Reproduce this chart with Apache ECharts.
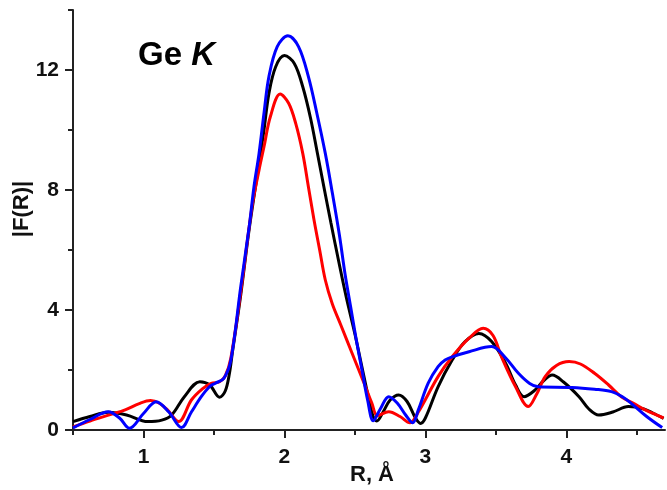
<!DOCTYPE html>
<html>
<head>
<meta charset="utf-8">
<script src="https://cdn.jsdelivr.net/npm/echarts@6/dist/echarts.min.js"></script>
<style>
  html, body { margin: 0; padding: 0; background: #fff; }
  #chart { width: 667px; height: 490px; }
</style>
</head>
<body>
<div id="chart"></div>
<script>
// |F(R)| curves
const xBlack = [0.50, 0.62, 0.75, 0.88, 1.03, 1.13, 1.20, 1.29, 1.40, 1.47, 1.54, 1.58, 1.61, 1.63, 1.69, 1.75, 1.82, 1.855, 1.89, 1.938, 2.00, 2.07, 2.13, 2.185, 2.235, 2.28, 2.33, 2.386, 2.44, 2.50, 2.55, 2.59, 2.63, 2.655, 2.70, 2.75, 2.81, 2.87, 2.93, 2.965, 3.00, 3.09, 3.19, 3.28, 3.38, 3.47, 3.57, 3.64, 3.70, 3.77, 3.84, 3.90, 3.98, 4.09, 4.16, 4.23, 4.33, 4.44, 4.55, 4.62, 4.69];
const yBlack = [0.28, 0.45, 0.59, 0.50, 0.28, 0.33, 0.50, 1.11, 1.61, 1.50, 1.09, 1.30, 1.89, 2.56, 4.50, 6.70, 8.89, 10.00, 11.22, 12.11, 12.48, 12.22, 11.44, 10.40, 9.20, 8.10, 6.90, 5.60, 4.40, 3.20, 2.10, 1.22, 0.44, 0.30, 0.60, 1.00, 1.17, 0.95, 0.40, 0.22, 0.40, 1.44, 2.33, 2.94, 3.22, 2.95, 2.22, 1.50, 1.11, 1.30, 1.65, 1.83, 1.60, 1.11, 0.70, 0.50, 0.60, 0.78, 0.70, 0.55, 0.39];

const xRed = [0.50, 0.62, 0.77, 0.87, 0.97, 1.05, 1.11, 1.17, 1.25, 1.34, 1.42, 1.48, 1.54, 1.58, 1.62, 1.69, 1.77, 1.82, 1.855, 1.90, 1.97, 2.03, 2.08, 2.13, 2.17, 2.21, 2.25, 2.29, 2.34, 2.40, 2.48, 2.575, 2.62, 2.66, 2.74, 2.82, 2.89, 2.95, 3.09, 3.19, 3.31, 3.41, 3.48, 3.54, 3.64, 3.73, 3.79, 3.85, 3.93, 4.02, 4.10, 4.20, 4.30, 4.39, 4.48, 4.56, 4.69];
const yRed = [0.10, 0.30, 0.52, 0.67, 0.88, 0.98, 0.90, 0.67, 0.28, 1.00, 1.38, 1.55, 1.61, 1.80, 2.40, 4.60, 7.44, 8.67, 9.44, 10.44, 11.20, 10.89, 10.22, 9.22, 8.11, 7.00, 6.00, 5.00, 4.20, 3.50, 2.56, 1.44, 0.90, 0.48, 0.61, 0.45, 0.24, 0.60, 1.78, 2.44, 3.06, 3.39, 3.15, 2.44, 1.44, 0.78, 1.20, 1.78, 2.15, 2.28, 2.20, 1.89, 1.50, 1.11, 0.88, 0.67, 0.40];

const xBlue = [0.50, 0.62, 0.75, 0.83, 0.90, 1.00, 1.09, 1.18, 1.27, 1.34, 1.41, 1.47, 1.51, 1.57, 1.62, 1.69, 1.75, 1.784, 1.82, 1.855, 1.89, 1.949, 2.025, 2.10, 2.17, 2.23, 2.29, 2.34, 2.39, 2.43, 2.47, 2.51, 2.55, 2.59, 2.63, 2.68, 2.74, 2.80, 2.86, 2.91, 2.95, 3.02, 3.09, 3.14, 3.19, 3.31, 3.47, 3.57, 3.66, 3.74, 3.80, 4.04, 4.20, 4.32, 4.40, 4.46, 4.57, 4.68];
const yBlue = [0.07, 0.35, 0.61, 0.40, 0.06, 0.55, 0.94, 0.60, 0.08, 0.60, 1.11, 1.45, 1.56, 1.72, 2.33, 4.78, 6.78, 8.11, 9.22, 10.56, 11.78, 12.78, 13.14, 12.78, 11.78, 10.56, 9.22, 7.90, 6.50, 5.20, 4.10, 3.00, 2.00, 1.00, 0.31, 0.70, 1.11, 0.90, 0.50, 0.24, 0.67, 1.56, 2.11, 2.33, 2.44, 2.61, 2.78, 2.40, 1.89, 1.55, 1.44, 1.42, 1.36, 1.28, 1.10, 0.89, 0.45, 0.08];

const xMajor = [1, 2, 3, 4];
const xMinor = [0.5, 1.5, 2.5, 3.5, 4.5];
const yMajor = [0, 4, 8, 12];
const yMinor = [2, 6, 10, 14];

const font = 'Liberation Sans, Arial, sans-serif';

function pairs(xs, ys) {
    return xs.map((x, i) => [x, ys[i]]);
}

function makeLine(name, xs, ys, color) {
    return {
        name: name,
        type: 'line',
        data: pairs(xs, ys),
        smooth: 0.35,
        showSymbol: false,
        lineStyle: { color: color, width: 3 },
        itemStyle: { color: color },
        z: 3
    };
}

const axisLine = { show: true, lineStyle: { color: '#222', width: 2 } };

var chart = echarts.init(document.getElementById('chart'));
var option = {
    animation: false,
    grid: { left: 73, right: 2, top: 10, bottom: 60 },
    xAxis: [{
        type: 'value',
        min: 0.5,
        max: 4.7,
        position: 'bottom',
        axisLine: axisLine,
        axisTick: { show: true, customValues: xMajor, length: 8, lineStyle: { color: '#222', width: 2 } },
        axisLabel: { customValues: xMajor, margin: 17, color: '#111', fontFamily: font, fontWeight: 'bold', fontSize: 21 },
        splitLine: { show: false }
    }, {
        type: 'value',
        min: 0.5,
        max: 4.7,
        position: 'bottom',
        offset: 0,
        axisLine: { show: false },
        axisTick: { show: true, customValues: xMinor, length: 5, lineStyle: { color: '#222', width: 2 } },
        axisLabel: { show: false },
        splitLine: { show: false }
    }],
    yAxis: [{
        type: 'value',
        min: 0,
        max: 14,
        position: 'left',
        axisLine: axisLine,
        axisTick: { show: true, customValues: yMajor, length: 8, lineStyle: { color: '#222', width: 2 } },
        axisLabel: { customValues: yMajor, margin: 14, color: '#111', fontFamily: font, fontWeight: 'bold', fontSize: 21 },
        splitLine: { show: false }
    }, {
        type: 'value',
        min: 0,
        max: 14,
        position: 'left',
        offset: 0,
        axisLine: { show: false },
        axisTick: { show: true, customValues: yMinor, length: 5, lineStyle: { color: '#222', width: 2 } },
        axisLabel: { show: false },
        splitLine: { show: false }
    }],
    graphic: [{
        type: 'text',
        left: 138,
        top: 39,
        style: {
            text: '{a|Ge }{b|K}',
            rich: {
                a: { fontFamily: font, fontWeight: 'bold', fontSize: 33, fill: '#000' },
                b: { fontFamily: font, fontWeight: 'bold', fontStyle: 'italic', fontSize: 33, fill: '#000' }
            }
        }
    }, {
        type: 'text',
        x: 22,
        y: 209,
        rotation: Math.PI / 2,
        style: {
            text: '|F(R)|',
            fontFamily: font,
            fontWeight: 'bold',
            fontSize: 22,
            fill: '#111',
            textAlign: 'center',
            textVerticalAlign: 'middle'
        }
    }, {
        type: 'text',
        x: 372,
        y: 475,
        style: {
            text: 'R, Å',
            fontFamily: font,
            fontWeight: 'bold',
            fontSize: 22,
            fill: '#111',
            textAlign: 'center',
            textVerticalAlign: 'middle'
        }
    }],
    series: [
        makeLine('black', xBlack, yBlack, '#000000'),
        makeLine('red', xRed, yRed, '#ff0000'),
        makeLine('blue', xBlue, yBlue, '#0000ff')
    ]
};
chart.setOption(option);
</script>
</body>
</html>
